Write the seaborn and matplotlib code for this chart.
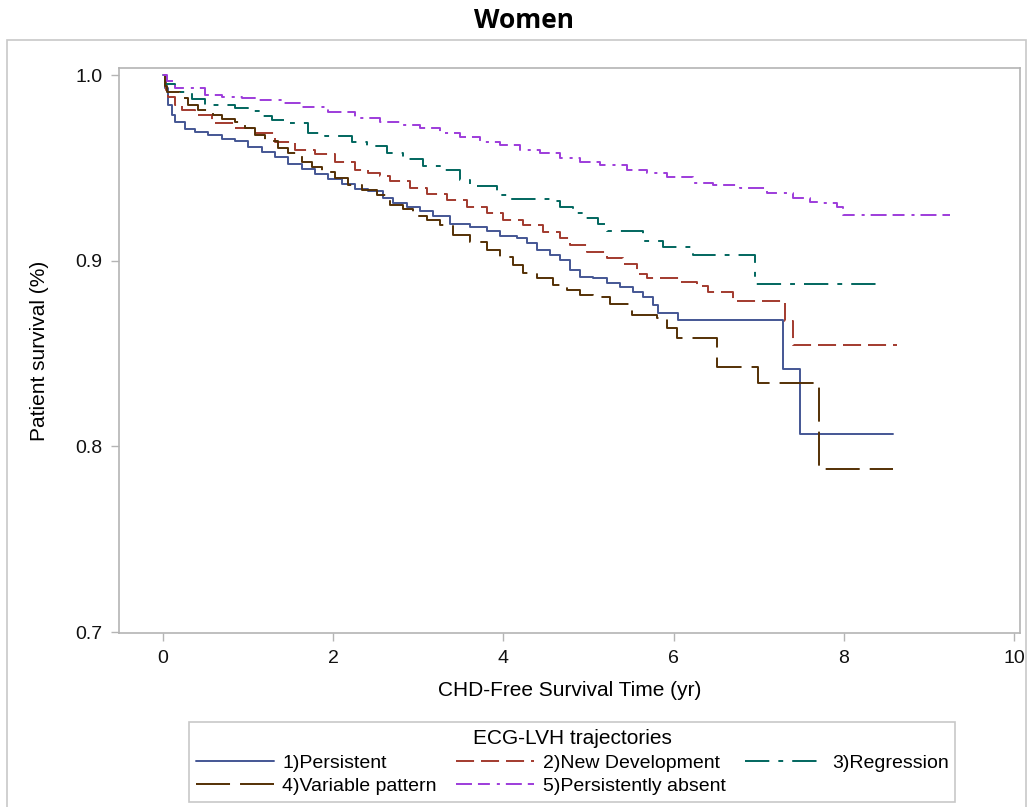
import matplotlib
matplotlib.use("Agg")
import matplotlib.pyplot as plt
import seaborn as sns
import pandas as pd
from matplotlib.patches import Rectangle

# ---------------- data ----------------
groups = ["1)Persistent", "2)New Development", "3)Regression",
          "4)Variable pattern", "5)Persistently absent"]

t_persistent = [0, 0.024, 0.059, 0.106, 0.141, 0.259, 0.376, 0.529, 0.693, 0.846,
                0.999, 1.163, 1.316, 1.469, 1.633, 1.786, 1.939, 2.103, 2.256, 2.409,
                2.585, 2.703, 2.867, 3.020, 3.173, 3.373, 3.608, 3.807, 3.960, 4.160,
                4.277, 4.395, 4.548, 4.665, 4.783, 4.900, 5.053, 5.217, 5.370, 5.523,
                5.640, 5.758, 5.817, 6.052, 7.286, 7.485, 8.578]
s_persistent = [1.0, 0.993, 0.984, 0.9785, 0.9747, 0.971, 0.9693, 0.9677, 0.9655, 0.9645,
                0.9612, 0.9585, 0.9558, 0.952, 0.9494, 0.9467, 0.944, 0.9413, 0.9385, 0.9375,
                0.934, 0.931, 0.929, 0.927, 0.924, 0.920, 0.918, 0.916, 0.9133, 0.912,
                0.9095, 0.9058, 0.903, 0.9004, 0.895, 0.891, 0.8907, 0.888, 0.8858, 0.883,
                0.8805, 0.876, 0.872, 0.868, 0.8415, 0.8065, 0.8065]

t_newdev = [0, 0.035, 0.059, 0.141, 0.223, 0.376, 0.576, 0.846, 1.046, 1.316,
            1.551, 1.786, 2.021, 2.256, 2.409, 2.550, 2.667, 2.902, 3.102, 3.337,
            3.572, 3.807, 3.995, 4.230, 4.465, 4.665, 4.783, 4.982, 5.217, 5.405,
            5.570, 5.687, 6.075, 6.275, 6.404, 6.698, 7.309, 7.403, 8.625]
s_newdev = [1.0, 0.992, 0.988, 0.984, 0.981, 0.9785, 0.974, 0.9715, 0.969, 0.964,
            0.9596, 0.9574, 0.953, 0.9488, 0.947, 0.9456, 0.943, 0.939, 0.936, 0.9327,
            0.929, 0.9257, 0.922, 0.919, 0.9155, 0.912, 0.9085, 0.9047, 0.9015, 0.898,
            0.893, 0.8907, 0.8885, 0.8864, 0.883, 0.8783, 0.8675, 0.8546, 0.8546]

t_regression = [0, 0.024, 0.141, 0.341, 0.494, 0.846, 0.999, 1.163, 1.281, 1.469,
                1.704, 1.904, 2.221, 2.397, 2.632, 2.820, 3.055, 3.255, 3.490, 3.608,
                3.925, 4.042, 4.548, 4.665, 4.818, 4.935, 5.112, 5.217, 5.640, 5.875,
                6.228, 6.956, 8.461]
s_regression = [1.0, 0.995, 0.991, 0.987, 0.984, 0.982, 0.9806, 0.978, 0.976, 0.974,
                0.969, 0.967, 0.964, 0.962, 0.958, 0.955, 0.951, 0.949, 0.9435, 0.940,
                0.9354, 0.933, 0.932, 0.929, 0.9257, 0.923, 0.920, 0.916, 0.9106, 0.9074,
                0.903, 0.8875, 0.8875]

t_variable = [0, 0.024, 0.047, 0.200, 0.294, 0.411, 0.588, 0.693, 0.846, 0.964,
              1.081, 1.199, 1.351, 1.469, 1.633, 1.751, 1.868, 2.021, 2.174, 2.338,
              2.515, 2.667, 2.820, 2.938, 3.102, 3.255, 3.408, 3.608, 3.807, 3.960,
              4.113, 4.230, 4.395, 4.583, 4.747, 4.900, 5.053, 5.253, 5.511, 5.805,
              5.922, 6.040, 6.510, 6.992, 7.709, 8.578]
s_variable = [1.0, 0.994, 0.991, 0.9876, 0.984, 0.981, 0.9785, 0.9763, 0.9747, 0.9715,
              0.9677, 0.9645, 0.9607, 0.958, 0.953, 0.9505, 0.948, 0.9445, 0.941, 0.938,
              0.9354, 0.930, 0.928, 0.924, 0.922, 0.919, 0.914, 0.910, 0.9058, 0.902,
              0.8977, 0.8934, 0.8907, 0.887, 0.8842, 0.8815, 0.8805, 0.8767, 0.8708, 0.869,
              0.8638, 0.8584, 0.843, 0.834, 0.788, 0.788]

t_absent = [0, 0.047, 0.141, 0.494, 0.693, 0.928, 1.081, 1.398, 1.633, 1.939,
            2.256, 2.409, 2.550, 2.785, 3.020, 3.255, 3.490, 3.725, 3.960, 4.195,
            4.430, 4.665, 4.900, 5.135, 5.452, 5.687, 5.922, 6.228, 6.463, 6.780,
            7.098, 7.403, 7.603, 7.756, 7.920, 7.991, 9.248]
s_absent = [1.0, 0.997, 0.993, 0.989, 0.988, 0.9876, 0.9865, 0.985, 0.983, 0.980,
            0.977, 0.9768, 0.9747, 0.973, 0.9715, 0.969, 0.9666, 0.964, 0.9623, 0.9596,
            0.958, 0.9553, 0.953, 0.9515, 0.949, 0.947, 0.945, 0.942, 0.941, 0.939,
            0.9365, 0.9338, 0.9316, 0.931, 0.929, 0.9246, 0.9246]

x_ticks = [0, 2, 4, 6, 8, 10]
y_ticks = [0.7, 0.8, 0.9, 1.0]

# ---------------- build long table ----------------
series = [(t_persistent, s_persistent), (t_newdev, s_newdev), (t_regression, s_regression),
          (t_variable, s_variable), (t_absent, s_absent)]
frames = []
for g, (tt, ss) in zip(groups, series):
    frames.append(pd.DataFrame({"time": tt, "surv": ss, "group": g}))
df = pd.concat(frames, ignore_index=True)

palette = dict(zip(groups, ["#445694", "#A23A2E", "#01665E", "#543005", "#9D3CDB"]))
dash_map = dict(zip(groups, [
    "",
    (13, 5),
    (17.5, 6.5, 3.5, 6.5),
    (24.5, 7.2),
    (11.5, 4.3, 8.6, 5, 2.2, 4.3),
]))

# ---------------- style ----------------
sns.set_theme(style="white")
plt.rcParams["font.family"] = ["Liberation Sans", "DejaVu Sans"]
plt.rcParams["lines.scale_dashes"] = False

fig = plt.figure(figsize=(10.28, 8.07), dpi=100)
ax = fig.add_axes([119 / 1028, 1 - 633 / 807, (1020 - 119) / 1028, (633 - 68) / 807])

sns.lineplot(data=df, x="time", y="surv", hue="group", style="group",
             hue_order=groups, style_order=groups, palette=palette, dashes=dash_map,
             estimator=None, sort=False, drawstyle="steps-post", linewidth=1.4,
             legend=False, ax=ax)

ax.set_xlim(-0.517, 10.07)
ax.set_ylim(0.6995, 1.0038)
ax.set_xticks(x_ticks)
ax.set_xticklabels([str(v) for v in x_ticks])
ax.set_yticks(y_ticks)
ax.set_yticklabels([f"{v:.1f}" for v in y_ticks])

frame_col = "#B4B4B4"
for sp in ax.spines.values():
    sp.set_color(frame_col)
    sp.set_linewidth(1.2)
ax.tick_params(axis="both", which="major", direction="out", length=6, width=1.0,
               color=frame_col, labelsize=14, labelcolor="#111111", pad=6,
               bottom=True, left=True)

ax.set_xlabel("CHD-Free Survival Time (yr)", fontsize=15, color="#000000", labelpad=10)
ax.set_ylabel("Patient survival (%)", fontsize=15, color="#000000", labelpad=19)

# legend (row-major ordering)
lines = ax.get_lines()[:5]
order = [0, 3, 1, 4, 2]
leg = ax.legend([lines[i] for i in order], [groups[i] for i in order],
                title="ECG-LVH trajectories", ncol=3, loc="upper center",
                bbox_to_anchor=(0.503, -0.141), fontsize=14, title_fontsize=15,
                handlelength=4.0, handletextpad=0.45, columnspacing=1.0,
                labelspacing=0.3, borderpad=0.35, frameon=True, fancybox=False,
                edgecolor="#C8C8C8", framealpha=1.0)
leg.get_frame().set_linewidth(1.2)
for txt in leg.get_texts():
    txt.set_color("#000000")
leg.get_title().set_color("#000000")

# title and outer border
fig.text(524 / 1028, 1 - 21 / 807, "Women", ha="center", va="center", color="#000000",
         fontsize=19, fontweight="bold", family=["Open Sans", "DejaVu Sans"])
fig.patches.append(Rectangle((7 / 1028, -0.01), (1026 - 7) / 1028, 1 - 40 / 807 + 0.01,
                             transform=fig.transFigure, fill=False,
                             edgecolor="#C8C8C8", linewidth=1.2))

fig.savefig("out.png", dpi=100)
